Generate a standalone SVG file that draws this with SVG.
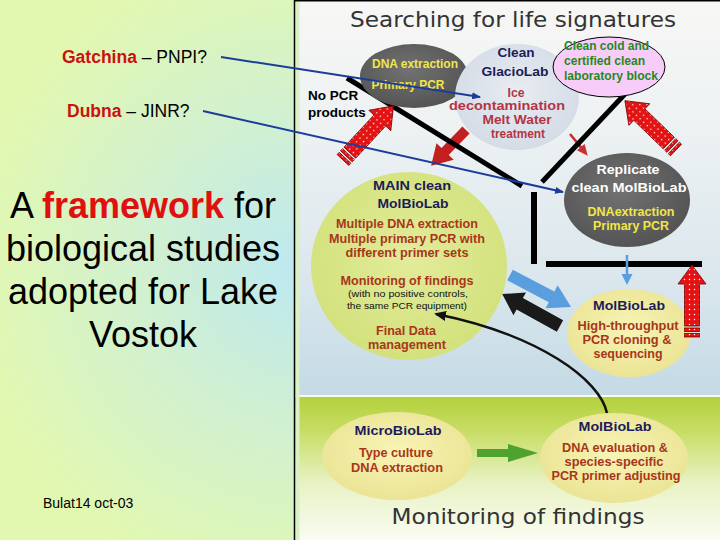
<svg xmlns="http://www.w3.org/2000/svg" width="720" height="540" viewBox="0 0 720 540">
<defs>
<style>
.t{font-family:"Liberation Sans",Arial,sans-serif;font-weight:bold;text-anchor:middle;font-size:13px}
.s12{font-size:12px}
.navy{fill:#1c1c5a}
.red{fill:#a8361a}
.rose{fill:#b43444}
.yel{fill:#f0e64a}
.wht{fill:#ffffff}
.blk{fill:#111111;font-weight:normal;font-size:9.5px}
.grn{fill:#1e8a1e;text-anchor:start;font-size:12px}
.big{font-family:"Liberation Sans",Arial,sans-serif;font-size:36px;text-anchor:middle;fill:#000000}
.lbl{font-family:"Liberation Sans",Arial,sans-serif;font-size:17.5px;fill:#000000}
.head{font-family:"DejaVu Sans",sans-serif;font-size:22px;fill:#333333;text-anchor:middle}
.rarrow{fill:url(#dots);stroke:#7a0000;stroke-width:0.8}
.frame{stroke:#000000;fill:none}
.blue{stroke:#1c3c9c;stroke-width:2;fill:none;marker-end:url(#blueHead)}
</style>
<radialGradient id="leftBg" cx="300" cy="270" r="330" gradientUnits="userSpaceOnUse">
<stop offset="0" stop-color="#bde8f0"/>
<stop offset="0.45" stop-color="#d0f0d2"/>
<stop offset="1" stop-color="#e2f8b0"/>
</radialGradient>
<linearGradient id="skyBg" x1="0" y1="0" x2="0" y2="1">
<stop offset="0" stop-color="#f7f7f5"/>
<stop offset="0.3" stop-color="#eef2f3"/>
<stop offset="0.7" stop-color="#dbe7ed"/>
<stop offset="1" stop-color="#c4dae5"/>
</linearGradient>
<linearGradient id="grassBg" x1="0" y1="0" x2="0" y2="1">
<stop offset="0" stop-color="#b4d03c"/>
<stop offset="0.25" stop-color="#c8de68"/>
<stop offset="0.6" stop-color="#e8f2c4"/>
<stop offset="1" stop-color="#fafcf2"/>
</linearGradient>
<radialGradient id="gray" cx="0.45" cy="0.4" r="0.6">
<stop offset="0" stop-color="#727272"/>
<stop offset="1" stop-color="#545454"/>
</radialGradient>
<radialGradient id="mainG" cx="0.5" cy="0.45" r="0.55">
<stop offset="0" stop-color="#e2ec9a"/>
<stop offset="1" stop-color="#d3e17c"/>
</radialGradient>
<radialGradient id="yellow" cx="0.5" cy="0.45" r="0.55">
<stop offset="0" stop-color="#f8f4b4"/>
<stop offset="1" stop-color="#ebe496"/>
</radialGradient>
<radialGradient id="glacio" cx="0.5" cy="0.45" r="0.55">
<stop offset="0" stop-color="#e8ecf2"/>
<stop offset="1" stop-color="#d5dce6"/>
</radialGradient>
<pattern id="dots" width="5" height="5" patternUnits="userSpaceOnUse">
<rect width="5" height="5" fill="#e41212"/>
<circle cx="2.5" cy="2.5" r="0.75" fill="#ffffff"/>
</pattern>
<marker id="blueHead" markerWidth="9" markerHeight="7" refX="8" refY="3.5" orient="auto" markerUnits="userSpaceOnUse">
<path d="M0,0 L9,3.5 L0,7 Z" fill="#1c3c9c"/>
</marker>
<marker id="blackHead" markerWidth="12" markerHeight="10" refX="10" refY="5" orient="auto" markerUnits="userSpaceOnUse">
<path d="M0,0 L12,5 L0,10 Z" fill="#111111"/>
</marker>
</defs>

<!-- left panel -->
<rect x="0" y="0" width="295" height="540" fill="url(#leftBg)"/>
<g id="left-labels">
<text class="lbl" x="62" y="63"><tspan fill="#cc1010" font-weight="bold">Gatchina</tspan> – PNPI?</text>
<text class="lbl" x="67" y="117"><tspan fill="#cc1010" font-weight="bold">Dubna</tspan> – JINR?</text>
<text class="big" x="143" y="218">A <tspan fill="#e01010" font-weight="bold">framework</tspan> for</text>
<text class="big" x="143" y="261">biological studies</text>
<text class="big" x="143" y="304">adopted for Lake</text>
<text class="big" x="143" y="347">Vostok</text>
<text x="43" y="508" font-family="Liberation Sans, Arial, sans-serif" font-size="14" fill="#000">Bulat14 oct-03</text>
</g>

<!-- right panel background -->
<rect x="295" y="0" width="425" height="395" fill="url(#skyBg)"/>
<rect x="295" y="395" width="425" height="2" fill="#f8fcf0"/>
<rect x="295" y="397" width="425" height="143" fill="url(#grassBg)"/>
<rect x="295.5" y="0" width="4" height="540" fill="#d8f2c6"/>
<line x1="294.5" y1="0" x2="294.5" y2="540" stroke="#000" stroke-width="1.5"/>
<line x1="295" y1="0.75" x2="720" y2="0.75" stroke="#000" stroke-width="1.5"/>

<text class="head" x="513" y="27" textLength="326" lengthAdjust="spacingAndGlyphs">Searching for life signatures</text>
<text class="head" x="518" y="524" textLength="253" lengthAdjust="spacingAndGlyphs">Monitoring of findings</text>

<!-- solid red arrows (under the frame lines) -->
<g id="red-solid-arrows">
<path transform="translate(466,130) rotate(134.2)" d="M0,-5 L30,-5 L30,-12 L50,0 L30,12 L30,5 L0,5 Z" fill="#c41e1e"/>
<path transform="translate(570,134) rotate(50.7)" d="M0,-1.3 L17,-1.3 L17,-5 L28,0 L17,5 L17,1.3 L0,1.3 Z" fill="#c83030"/>
</g>

<!-- thick black frame lines -->
<g id="frame-lines" class="frame">
<line x1="347" y1="78" x2="522" y2="186" stroke-width="5"/>
<line x1="542" y1="182" x2="625" y2="94" stroke-width="5"/>
<line x1="534" y1="192" x2="534" y2="264" stroke-width="6"/>
<line x1="546" y1="264" x2="702" y2="264" stroke-width="6"/>
</g>

<!-- nodes -->
<g id="node-dna-extraction">
<ellipse cx="414" cy="76" rx="54" ry="32" fill="url(#gray)"/>
<text class="t yel s12" x="415" y="68" textLength="86" lengthAdjust="spacingAndGlyphs">DNA extraction</text>
<text class="t yel s12" x="408" y="89" textLength="73" lengthAdjust="spacingAndGlyphs">Primary PCR</text>
</g>

<g id="node-no-pcr">
<text x="308" y="100" font-family="Liberation Sans, Arial, sans-serif" font-weight="bold" font-size="13.5" fill="#000">No PCR</text>
<text x="308" y="117" font-family="Liberation Sans, Arial, sans-serif" font-weight="bold" font-size="13.5" fill="#000">products</text>
</g>

<g id="node-glaciolab">
<ellipse cx="517" cy="97" rx="62" ry="53" fill="url(#glacio)"/>
<text class="t navy" x="516" y="57" textLength="37" lengthAdjust="spacingAndGlyphs">Clean</text>
<text class="t navy" x="515" y="76" textLength="67" lengthAdjust="spacingAndGlyphs">GlacioLab</text>
<text class="t rose s12" x="516" y="97" textLength="17" lengthAdjust="spacingAndGlyphs">Ice</text>
<text class="t rose s12" x="507" y="110" textLength="116" lengthAdjust="spacingAndGlyphs">decontamination</text>
<text class="t rose s12" x="517" y="124" textLength="69" lengthAdjust="spacingAndGlyphs">Melt Water</text>
<text class="t rose s12" x="518" y="138" textLength="54" lengthAdjust="spacingAndGlyphs">treatment</text>
</g>

<g id="node-clean-block">
<ellipse cx="609" cy="67" rx="56" ry="30" fill="#f8ccf8" stroke="#000" stroke-width="1"/>
<text class="t grn" x="564" y="50" textLength="85" lengthAdjust="spacingAndGlyphs">Clean cold and</text>
<text class="t grn" x="564" y="65" textLength="81" lengthAdjust="spacingAndGlyphs">certified clean</text>
<text class="t grn" x="564" y="80" textLength="94" lengthAdjust="spacingAndGlyphs">laboratory block</text>
</g>

<g id="node-replicate">
<ellipse cx="627" cy="200" rx="63" ry="47" fill="url(#gray)"/>
<text class="t wht" x="628" y="174" textLength="63" lengthAdjust="spacingAndGlyphs">Replicate</text>
<text class="t wht" x="629" y="192" textLength="115" lengthAdjust="spacingAndGlyphs">clean MolBioLab</text>
<text class="t yel s12" x="631" y="216" textLength="87" lengthAdjust="spacingAndGlyphs">DNAextraction</text>
<text class="t yel s12" x="631" y="230" textLength="76" lengthAdjust="spacingAndGlyphs">Primary PCR</text>
</g>

<g id="node-main-molbiolab">
<ellipse cx="409" cy="266" rx="98" ry="94" fill="url(#mainG)"/>
<text class="t navy" x="412" y="190" textLength="78" lengthAdjust="spacingAndGlyphs">MAIN clean</text>
<text class="t navy" x="413" y="208" textLength="71" lengthAdjust="spacingAndGlyphs">MolBioLab</text>
<text class="t red s12" x="407" y="228" textLength="142" lengthAdjust="spacingAndGlyphs">Multiple DNA extraction</text>
<text class="t red s12" x="407" y="243" textLength="156" lengthAdjust="spacingAndGlyphs">Multiple primary PCR with</text>
<text class="t red s12" x="407" y="257" textLength="123" lengthAdjust="spacingAndGlyphs">different primer sets</text>
<text class="t red s12" x="407" y="285" textLength="133" lengthAdjust="spacingAndGlyphs">Monitoring of findings</text>
<text class="t blk" x="408" y="297" textLength="120" lengthAdjust="spacingAndGlyphs">(with no positive controls,</text>
<text class="t blk" x="407" y="309" textLength="120" lengthAdjust="spacingAndGlyphs">the same PCR equipment)</text>
<text class="t red s12" x="406" y="335" textLength="60" lengthAdjust="spacingAndGlyphs">Final Data</text>
<text class="t red s12" x="407" y="349" textLength="78" lengthAdjust="spacingAndGlyphs">management</text>
</g>

<g id="node-hts-molbiolab">
<ellipse cx="629" cy="333" rx="62" ry="44" fill="url(#yellow)"/>
<text class="t navy" x="629" y="310" textLength="72" lengthAdjust="spacingAndGlyphs">MolBioLab</text>
<text class="t red s12" x="628" y="330" textLength="101" lengthAdjust="spacingAndGlyphs">High-throughput</text>
<text class="t red s12" x="627" y="344" textLength="89" lengthAdjust="spacingAndGlyphs">PCR cloning &amp;</text>
<text class="t red s12" x="628" y="358" textLength="69" lengthAdjust="spacingAndGlyphs">sequencing</text>
</g>

<g id="node-microbiolab">
<ellipse cx="397" cy="456" rx="75" ry="44" fill="url(#yellow)"/>
<text class="t navy" x="398" y="435" textLength="87" lengthAdjust="spacingAndGlyphs">MicroBioLab</text>
<text class="t red s12" x="396" y="457" textLength="74" lengthAdjust="spacingAndGlyphs">Type culture</text>
<text class="t red s12" x="397" y="472" textLength="92" lengthAdjust="spacingAndGlyphs">DNA extraction</text>
</g>

<g id="node-eval-molbiolab">
<ellipse cx="614" cy="458" rx="74" ry="45" fill="url(#yellow)"/>
<text class="t navy" x="615" y="431" textLength="73" lengthAdjust="spacingAndGlyphs">MolBioLab</text>
<text class="t red s12" x="615" y="452" textLength="106" lengthAdjust="spacingAndGlyphs">DNA evaluation &amp;</text>
<text class="t red s12" x="614" y="466" textLength="99" lengthAdjust="spacingAndGlyphs">species-specific</text>
<text class="t red s12" x="616" y="480" textLength="129" lengthAdjust="spacingAndGlyphs">PCR primer adjusting</text>
</g>

<!-- connectors -->
<g id="connectors">
<g class="rarrow" transform="translate(343,160) rotate(-47)">
<path d="M10,-8 L54,-8 L54,-15 L74,0 L54,15 L54,8 L10,8 Z"/>
<rect x="0" y="-8" width="3" height="16"/>
<rect x="5" y="-8" width="3" height="16"/>
</g>
<g class="rarrow" transform="translate(676,150) rotate(-136)">
<path d="M10,-8 L51,-8 L51,-15 L71,0 L51,15 L51,8 L10,8 Z"/>
<rect x="0" y="-8" width="3" height="16"/>
<rect x="5" y="-8" width="3" height="16"/>
</g>
<g class="rarrow" transform="translate(692,337) rotate(-90)">
<path d="M11,-7.5 L53,-7.5 L53,-14 L72,0 L53,14 L53,7.5 L11,7.5 Z"/>
<rect x="0" y="-7.5" width="3.5" height="15"/>
<rect x="5.5" y="-7.5" width="3.5" height="15"/>
</g>
<path transform="translate(510,275) rotate(27.7)" d="M0,-6 L47,-6 L47,-13 L69,0 L47,13 L47,6 L0,6 Z" fill="#5b9ee0"/>
<path transform="translate(560,326) rotate(-151.1)" d="M0,-6.5 L46,-6.5 L46,-13 L66,0 L46,13 L46,6.5 L0,6.5 Z" fill="#1a1a1a"/>
<path d="M477,449 L508,449 L508,444 L538,453 L508,462 L508,457 L477,457 Z" fill="#50a22e"/>
<line x1="627" y1="255" x2="627" y2="276" stroke="#5b9ee0" stroke-width="2.5"/>
<path d="M621.5,274 L632.5,274 L627,285 Z" fill="#5b9ee0"/>
<path d="M607,413 C600,380 540,335 436,314" fill="none" stroke="#111" stroke-width="2.5" marker-end="url(#blackHead)"/>
<line class="blue" x1="221" y1="57" x2="480" y2="97"/>
<line class="blue" x1="203" y1="111" x2="563" y2="192"/>
</g>
</svg>
